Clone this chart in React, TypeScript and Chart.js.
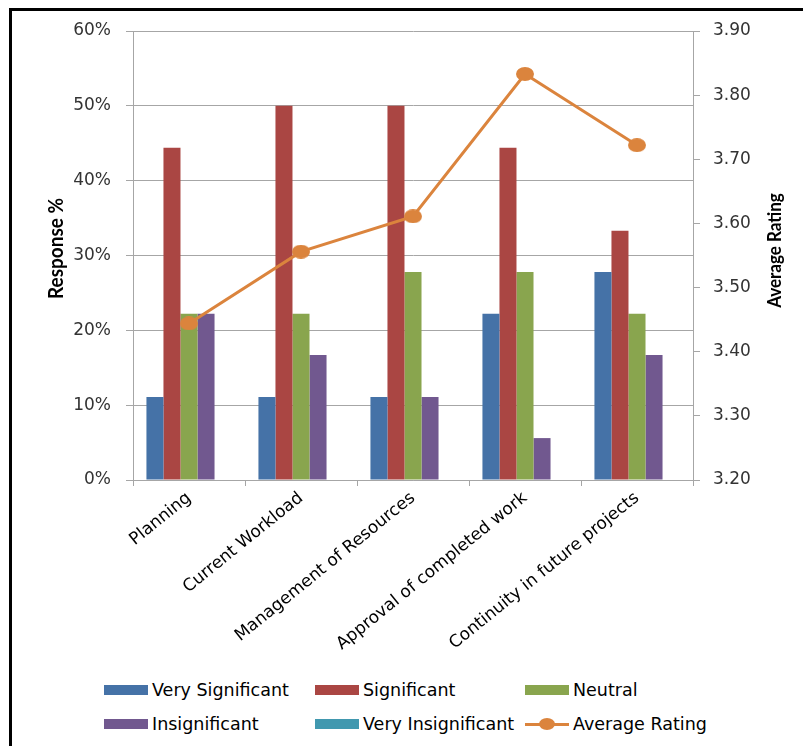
import React, { useEffect, useRef } from "react";
import { Chart, registerables } from "chart.js";

Chart.register(...registerables);

const categories = [
  "Planning",
  "Current Workload",
  "Management of Resources",
  "Approval of completed work",
  "Continuity in future projects",
];
const verySignificant = [0.111, 0.111, 0.111, 0.222, 0.278];
const significant = [0.444, 0.5, 0.5, 0.444, 0.333];
const neutral = [0.222, 0.222, 0.278, 0.278, 0.222];
const insignificant = [0.222, 0.167, 0.111, 0.056, 0.167];
const veryInsignificant = [0, 0, 0, 0, 0];
const averageRating = [3.444, 3.556, 3.611, 3.833, 3.722];

const leftTicks = [0, 0.1, 0.2, 0.3, 0.4, 0.5, 0.6];
const rightTicks = [3.2, 3.3, 3.4, 3.5, 3.6, 3.7, 3.8, 3.9];

const leftTitle = "Response %";
const rightTitle = "Average Rating";

const COLORS = {
  vs: "#4572A7",
  s: "#AA4643",
  n: "#89A54E",
  i: "#71588F",
  vi: "#4198AF",
  avg: "#DB843D",
};

const FONT = "'DejaVu Sans', sans-serif";
const TITLE_FONT = "Lato, 'Open Sans', sans-serif";
const GRID = "#A6A6A6";

const legendItems = [
  { label: "Very Significant", color: COLORS.vs, type: "box", col: 0, row: 0 },
  { label: "Significant", color: COLORS.s, type: "box", col: 1, row: 0 },
  { label: "Neutral", color: COLORS.n, type: "box", col: 2, row: 0 },
  { label: "Insignificant", color: COLORS.i, type: "box", col: 0, row: 1 },
  { label: "Very Insignificant", color: COLORS.vi, type: "box", col: 1, row: 1 },
  { label: "Average Rating", color: COLORS.avg, type: "line", col: 2, row: 1 },
];
const legendColX = [104, 315, 525];
const legendRowY = [690, 724];

function makeEllipse(w: number, h: number, color: string) {
  const c = document.createElement("canvas");
  c.width = w;
  c.height = h;
  const ctx = c.getContext("2d")!;
  ctx.fillStyle = color;
  ctx.beginPath();
  ctx.ellipse(w / 2, h / 2, w / 2, h / 2, 0, 0, Math.PI * 2);
  ctx.fill();
  return c;
}

export default function App() {
  const canvasRef = useRef<HTMLCanvasElement | null>(null);

  useEffect(() => {
    if (!canvasRef.current) return;
    const titlesPlugin = {
      id: "axisTitles",
      afterDraw(chart: any) {
        const ctx = chart.ctx;
        const area = chart.chartArea;
        const cy = (area.top + area.bottom) / 2;
        const draw = (text: string, x: number, y: number, size: number) => {
          ctx.save();
          ctx.translate(x, y);
          ctx.rotate(-Math.PI / 2);
          ctx.scale(1, 1.08);
          ctx.font = `bold ${size}px ${TITLE_FONT}`;
          ctx.fillStyle = "#000";
          ctx.textAlign = "center";
          ctx.textBaseline = "middle";
          ctx.fillText(text, 0, 0);
          ctx.restore();
        };
        draw(leftTitle, 56, cy - 7, 19);
        draw(rightTitle, 775, cy - 5, 17);
      },
    };
    const dot = makeEllipse(18, 14, COLORS.avg);
    const chart = new Chart(canvasRef.current, {
      type: "bar",
      data: {
        labels: categories,
        datasets: [
          {
            type: "line",
            label: "Average Rating",
            data: averageRating,
            yAxisID: "y1",
            borderColor: COLORS.avg,
            backgroundColor: COLORS.avg,
            borderWidth: 3,
            pointStyle: dot,
            pointRadius: 7,
            pointHoverRadius: 7,
            pointBorderWidth: 0,
            order: 0,
          } as any,
          { label: "Very Significant", data: verySignificant, backgroundColor: COLORS.vs, yAxisID: "y", order: 1 },
          { label: "Significant", data: significant, backgroundColor: COLORS.s, yAxisID: "y", order: 1 },
          { label: "Neutral", data: neutral, backgroundColor: COLORS.n, yAxisID: "y", order: 1 },
          { label: "Insignificant", data: insignificant, backgroundColor: COLORS.i, yAxisID: "y", order: 1 },
          { label: "Very Insignificant", data: veryInsignificant, backgroundColor: COLORS.vi, yAxisID: "y", order: 1 },
        ],
      },
      options: {
        animation: false,
        responsive: false,
        maintainAspectRatio: false,
        datasets: { bar: { categoryPercentage: 0.76, barPercentage: 1 } } as any,
        layout: { padding: { left: 41, top: 31, right: 0, bottom: 0 } },
        plugins: {
          legend: { display: false },
          tooltip: { enabled: false },
        },
        scales: {
          x: {
            grid: { display: true, drawOnChartArea: false, drawTicks: true, tickLength: 6, color: GRID, offset: true },
            border: { display: true, color: GRID },
            ticks: {
              color: "#000",
              font: { family: FONT, size: 17 },
              minRotation: 39,
              maxRotation: 39,
              autoSkip: false,
              padding: 2,
            },
            afterFit(scale: any) {
              scale.height = 190;
            },
          },
          y: {
            position: "left",
            min: 0,
            max: 0.6,
            afterBuildTicks(scale: any) {
              scale.ticks = leftTicks.map((v) => ({ value: v }));
            },
            ticks: {
              color: "#333",
              font: { family: FONT, size: 17 },
              padding: 15,
              callback: (v: any) => `${Math.round(Number(v) * 100)}%`,
            },
            grid: { color: GRID, tickLength: 7, drawTicks: true },
            border: { display: true, color: GRID },
            afterFit(scale: any) {
              scale.width = 92;
            },
          },
          y1: {
            position: "right",
            min: 3.2,
            max: 3.9,
            afterBuildTicks(scale: any) {
              scale.ticks = rightTicks.map((v) => ({ value: v }));
            },
            ticks: {
              color: "#333",
              font: { family: FONT, size: 17 },
              padding: 13,
              callback: (v: any) => Number(v).toFixed(2),
            },
            grid: { drawOnChartArea: false, color: GRID, tickLength: 7, drawTicks: true },
            border: { display: true, color: GRID },
            afterFit(scale: any) {
              scale.width = 110;
            },
          },
        },
      } as any,
      plugins: [titlesPlugin],
    });
    return () => chart.destroy();
  }, []);

  return (
    <div
      style={{
        position: "fixed",
        left: 0,
        top: 0,
        width: 803,
        height: 746,
        overflow: "hidden",
        background: "#fff",
        fontFamily: FONT,
      }}
    >
      <div
        style={{
          position: "absolute",
          left: 9,
          top: 8,
          width: 830,
          height: 780,
          border: "3px solid #000",
          boxSizing: "border-box",
        }}
      />
      <canvas
        ref={canvasRef}
        width={803}
        height={670}
        style={{ position: "absolute", left: 0, top: 0, width: 803, height: 670 }}
      />
      {legendItems.map((it) => {
        const x = legendColX[it.col];
        const y = legendRowY[it.row];
        return (
          <div key={it.label} style={{ position: "absolute", left: x, top: y - 12, height: 24, display: "flex", alignItems: "center" }}>
            {it.type === "box" ? (
              <span style={{ display: "inline-block", width: 44, height: 10, background: it.color }} />
            ) : (
              <span style={{ position: "relative", display: "inline-block", width: 44, height: 10 }}>
                <span style={{ position: "absolute", left: 0, top: 3.5, width: 44, height: 3, background: it.color }} />
                <span style={{ position: "absolute", left: 14, top: -1, width: 16, height: 12, borderRadius: "50%", background: it.color }} />
              </span>
            )}
            <span style={{ marginLeft: 4, fontSize: 17.5, color: "#000", whiteSpace: "nowrap" }}>{it.label}</span>
          </div>
        );
      })}
    </div>
  );
}
